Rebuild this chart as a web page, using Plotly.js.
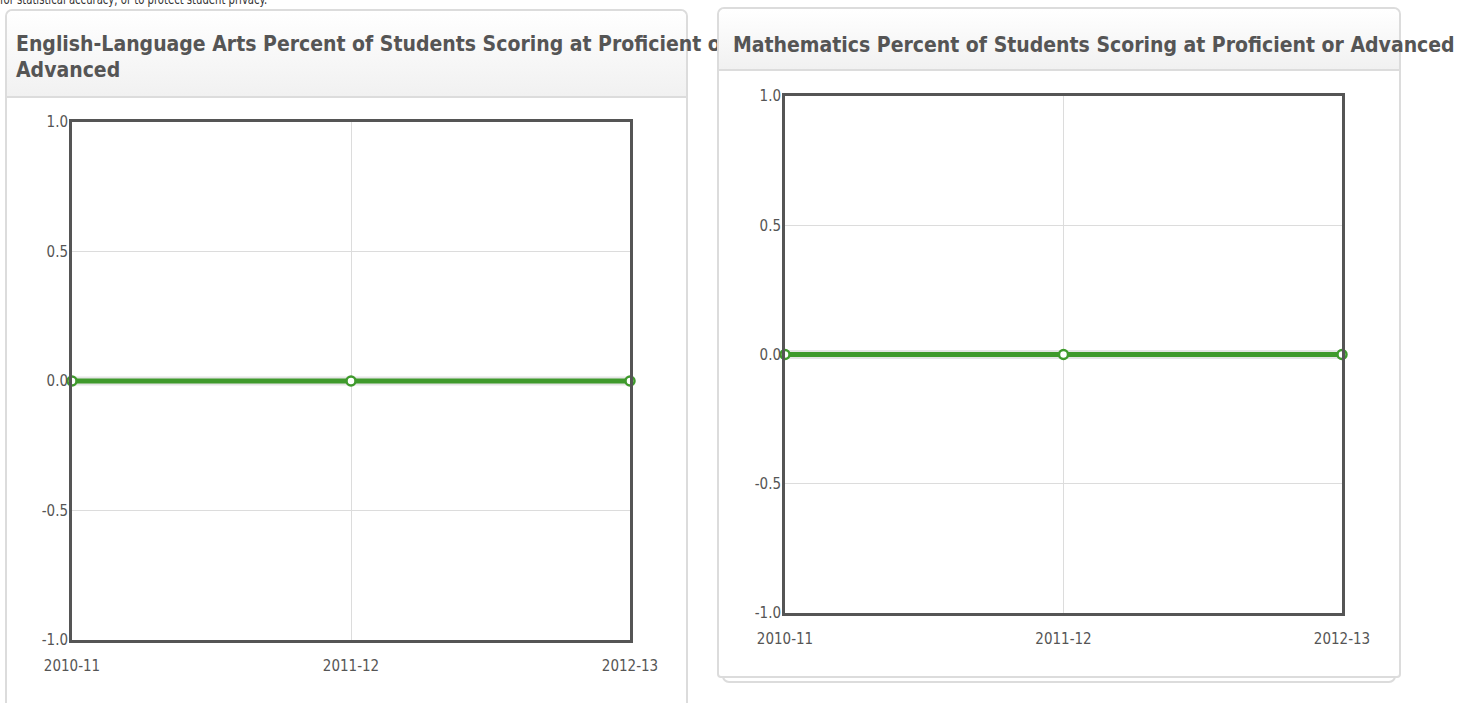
<!DOCTYPE html>
<html>
<head>
<meta charset="utf-8">
<script src="https://cdn.plot.ly/plotly-3.0.1.min.js"></script>
<style>
  html, body { margin:0; padding:0; width:1471px; height:703px; overflow:hidden; background:#fff; font-family:"DejaVu Sans Condensed","DejaVu Sans",Verdana,sans-serif; }
  .note { position:absolute; left:0; top:-9px; font-size:14px; color:#333; white-space:nowrap; transform:scaleX(0.8); transform-origin:0 0; }
  .panel { position:absolute; background:#fff; border:2px solid #dcdcdc; border-radius:7px 7px 0 0; box-sizing:border-box; }
  .shadow { position:absolute; border:2px solid #dcdcdc; border-radius:0 0 7px 7px; box-sizing:border-box; background:#fff; }
  .head { position:absolute; left:0; right:0; top:0; background:linear-gradient(#ffffff,#f1f1f1); border-bottom:2px solid #dcdcdc; border-radius:6px 6px 0 0; box-sizing:border-box; }
  .title { position:absolute; font-weight:bold; font-size:21px; color:#555; line-height:26px; white-space:nowrap; }
  .chart { position:absolute; }
</style>
</head>
<body>
<div class="note">for statistical accuracy, or to protect student privacy.</div>

<div class="panel" id="p1" style="left:5px; top:9px; width:683px; height:720px;">
  <div class="head" style="height:87px;"></div>
</div>
<div class="title" style="left:16px; top:31px; z-index:1;">English-Language Arts Percent of Students Scoring at Proficient or<br>Advanced</div>
<div class="chart" id="c1" style="left:6px; top:96px; width:681px; height:607px; z-index:2;"></div>

<div class="shadow" style="left:722px; top:660px; width:674px; height:23px; z-index:3;"></div>
<div class="panel" id="p2" style="left:717px; top:7px; width:684px; height:671px; border-radius:7px 7px 4px 4px; z-index:4;">
  <div class="head" style="height:62px;"></div>
</div>
<div class="title" style="left:733px; top:32px; z-index:5;">Mathematics Percent of Students Scoring at Proficient or Advanced</div>
<div class="chart" id="c2" style="left:718px; top:69px; width:682px; height:608px; z-index:6;"></div>

<script>
// ---- data ----
const years = ['2010-11', '2011-12', '2012-13'];
const elaValues = [0, 0, 0];
const mathValues = [0, 0, 0];
const yTickVals = [-1, -0.5, 0, 0.5, 1];
const yTickText = ['-1.0', '-0.5', '0.0', '0.5', '1.0'];

const green = '#3f9a2c';
const font = {family: '"DejaVu Sans Condensed","DejaVu Sans",sans-serif', size: 15, color: '#555'};

function makeTraces(vals) {
  return [
    {x: years, y: vals, type: 'scatter', mode: 'lines', hoverinfo: 'skip',
     line: {color: 'rgba(0,0,0,0.10)', width: 9}, cliponaxis: false, showlegend: false},
    {x: years, y: vals, type: 'scatter', mode: 'lines+markers', cliponaxis: false, showlegend: false,
     line: {color: green, width: 5},
     marker: {size: 9, color: '#fff', line: {color: green, width: 2.5}}}
  ];
}

function makeLayout(m) {
  return {
    margin: m,
    paper_bgcolor: 'rgba(0,0,0,0)',
    plot_bgcolor: '#fff',
    font: font,
    showlegend: false,
    xaxis: {type: 'category', range: [0, 2], showgrid: true, gridcolor: '#dcdcdc', gridwidth: 1,
            showline: true, mirror: true, linecolor: '#555', linewidth: 3, ticks: '',
            ticklabelstandoff: 10, tickfont: font, zeroline: false, fixedrange: true},
    yaxis: {range: [-1, 1], tickvals: yTickVals, ticktext: yTickText, showgrid: true, gridcolor: '#dcdcdc',
            gridwidth: 1, showline: true, mirror: true, linecolor: '#555', linewidth: 3, ticks: '',
            ticklabelstandoff: -2, tickfont: font, zeroline: false, fixedrange: true}
  };
}

const cfg = {displayModeBar: false, staticPlot: true};
Plotly.newPlot('c1', makeTraces(elaValues), makeLayout({l: 66, r: 57, t: 26, b: 63}), cfg);
Plotly.newPlot('c2', makeTraces(mathValues), makeLayout({l: 67, r: 58, t: 27, b: 64}), cfg);
</script>
</body>
</html>
